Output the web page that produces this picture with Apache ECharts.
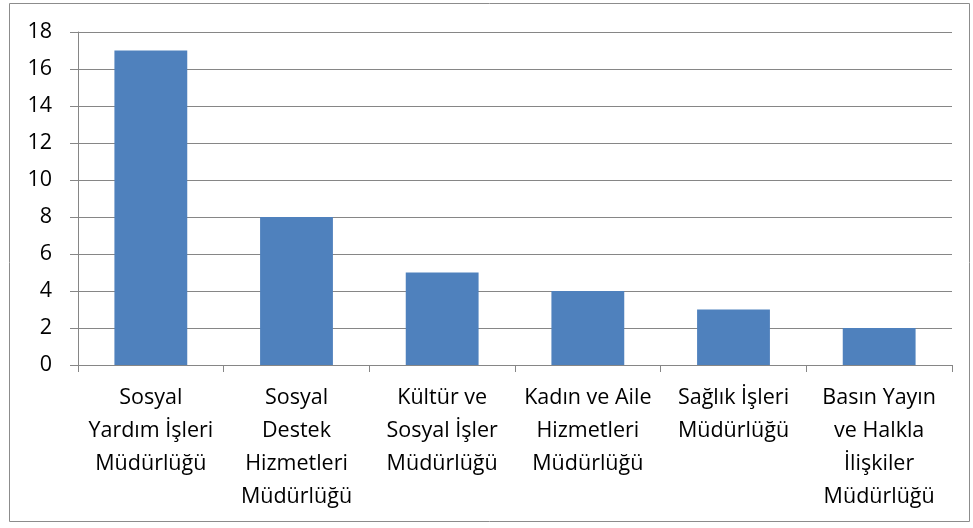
<!DOCTYPE html>
<html>
<head>
<meta charset="utf-8">
<script src="https://cdn.jsdelivr.net/npm/echarts@6/dist/echarts.min.js"></script>
<style>
  html, body { margin: 0; padding: 0; background: #fff; }
  #chart { width: 973px; height: 528px; }
</style>
</head>
<body>
<div id="chart"></div>
<script>
// categories (line breaks as in the picture)
const categories = [
  "Sosyal\nYardım İşleri\nMüdürlüğü",
  "Sosyal\nDestek\nHizmetleri\nMüdürlüğü",
  "Kültür ve\nSosyal İşler\nMüdürlüğü",
  "Kadın ve Aile\nHizmetleri\nMüdürlüğü",
  "Sağlık İşleri\nMüdürlüğü",
  "Basın Yayın\nve Halkla\nİlişkiler\nMüdürlüğü"
];
const values = [17, 8, 5, 4, 3, 2];
const yTicks = [0, 2, 4, 6, 8, 10, 12, 14, 16, 18];

const chart = echarts.init(document.getElementById("chart"));
const font = "'Open Sans', 'Noto Sans', sans-serif";

chart.setOption({
  animation: false,
  graphic: [{
    type: "rect",
    shape: { x: 9.5, y: 3.5, width: 960, height: 518 },
    style: { fill: "none", stroke: "#8c8c8c", lineWidth: 1 },
    silent: true
  }],
  grid: { left: 78, right: 21, top: 32, bottom: 163 },
  xAxis: {
    type: "category",
    data: categories,
    axisLine: { lineStyle: { color: "#868686", width: 1 } },
    axisTick: { show: true, length: 7, lineStyle: { color: "#868686" } },
    axisLabel: {
      interval: 0,
      margin: 16,
      color: "#000",
      fontFamily: font,
      fontSize: 21.5,
      lineHeight: 33,
      align: "center"
    }
  },
  yAxis: {
    type: "value",
    min: yTicks[0],
    max: yTicks[yTicks.length - 1],
    interval: 2,
    axisLine: { show: true, lineStyle: { color: "#868686", width: 1 } },
    axisTick: { show: true, length: 8, lineStyle: { color: "#868686" } },
    splitLine: { lineStyle: { color: "#868686", width: 1 } },
    axisLabel: {
      margin: 26,
      color: "#000",
      fontFamily: font,
      fontSize: 21.5
    }
  },
  series: [{
    type: "bar",
    data: values,
    barCategoryGap: "50%",
    itemStyle: { color: "#4F81BD" }
  }]
});
</script>
</body>
</html>
